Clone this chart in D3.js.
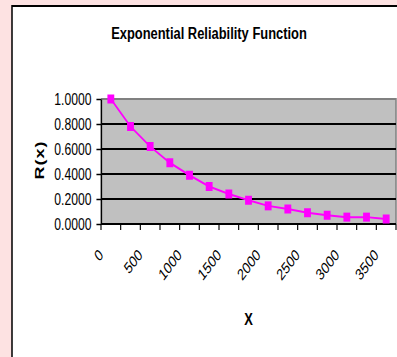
<!DOCTYPE html>
<html>
<head>
<meta charset="utf-8">
<script src="https://cdn.jsdelivr.net/npm/d3@7"></script>
<style>
  html, body { margin: 0; padding: 0; background: #fde2e2; }
  svg { display: block; }
  text { font-family: "Liberation Sans", Arial, sans-serif; fill: #000; }
</style>
</head>
<body>
<div id="chart"></div>
<script>
// chart data
const categories = [0, 250, 500, 750, 1000, 1250, 1500, 1750, 2000, 2250, 2500, 2750, 3000, 3250, 3500];
const reliability = [1.0, 0.78, 0.62, 0.49, 0.39, 0.30, 0.24, 0.19, 0.145, 0.12, 0.09, 0.07, 0.055, 0.055, 0.04];
const yTicks = [0, 0.2, 0.4, 0.6, 0.8, 1.0];
const xLabels = [0, 500, 1000, 1500, 2000, 2500, 3000, 3500];

// the original picture is squeezed horizontally, so draw wide and scale down
const SX = 0.76;
const width = 397, height = 357;
const W = width / SX;

const svg = d3.select('#chart')
    .append('svg')
    .attr('width', width)
    .attr('height', height);

svg.append('rect')
    .attr('width', width)
    .attr('height', height)
    .attr('fill', '#fde2e2');

const g = svg.append('g').attr('transform', `scale(${SX},1)`);

// chart area (white with black frame, right/bottom edges off-picture)
g.append('rect')
    .attr('x', 12 / SX)
    .attr('y', 6)
    .attr('width', W + 20)
    .attr('height', height + 20)
    .attr('fill', '#fff')
    .attr('stroke', '#000')
    .attr('stroke-width', 2);

const plot = {left: 101 / SX, right: 396 / SX, top: 99, bottom: 224};

const x = d3.scaleBand()
    .domain(categories)
    .range([plot.left, plot.right])
    .padding(0);

const y = d3.scaleLinear()
    .domain([0, 1])
    .range([plot.bottom, plot.top]);

// plot background
g.append('rect')
    .attr('x', plot.left)
    .attr('y', plot.top)
    .attr('width', plot.right - plot.left)
    .attr('height', plot.bottom - plot.top)
    .attr('fill', '#c0c0c0');

// top + right border of plot area
g.append('path')
    .attr('d', `M${plot.left},${plot.top}H${plot.right}V${plot.bottom}`)
    .attr('fill', 'none')
    .attr('stroke', '#808080')
    .attr('stroke-width', 2);

// gridlines
g.append('g')
    .selectAll('line')
    .data(yTicks.filter(d => d > 0 && d < 1))
    .enter()
    .append('line')
    .attr('x1', plot.left)
    .attr('x2', plot.right)
    .attr('y1', d => y(d))
    .attr('y2', d => y(d))
    .attr('stroke', '#000')
    .attr('stroke-width', 2);

// y axis
const yAxis = g.append('g')
    .attr('transform', `translate(${plot.left},0)`)
    .call(d3.axisLeft(y)
        .tickValues(yTicks)
        .tickFormat(d3.format('.4f'))
        .tickSize(6)
        .tickSizeOuter(0)
        .tickPadding(6.5));
yAxis.select('.domain').attr('stroke', '#000').attr('stroke-width', 2);
yAxis.selectAll('.tick line').attr('stroke', '#000').attr('stroke-width', 1.5);
yAxis.selectAll('.tick text')
    .attr('font-family', '"Liberation Sans", Arial, sans-serif')
    .attr('font-size', 16)
    .attr('fill', '#000');

// x axis line + ticks at category boundaries
g.append('line')
    .attr('x1', plot.left)
    .attr('x2', plot.right)
    .attr('y1', plot.bottom)
    .attr('y2', plot.bottom)
    .attr('stroke', '#000')
    .attr('stroke-width', 2);

const bounds = categories.map(c => x(c)).concat([plot.right]);
g.append('g')
    .selectAll('line')
    .data(bounds)
    .enter()
    .append('line')
    .attr('x1', d => d)
    .attr('x2', d => d)
    .attr('y1', plot.bottom)
    .attr('y2', plot.bottom + 6)
    .attr('stroke', '#000')
    .attr('stroke-width', 1.5);

// rotated category labels
g.append('g')
    .selectAll('text')
    .data(xLabels)
    .enter()
    .append('text')
    .attr('transform', d => `translate(${x(d) + x.bandwidth() / 2 - 9},256) rotate(-45)`)
    .attr('text-anchor', 'end')
    .attr('font-size', 16)
    .text(d => d);

// line + markers
const line = d3.line()
    .x((d, i) => x(categories[i]) + x.bandwidth() / 2)
    .y(d => y(d));

g.append('path')
    .datum(reliability)
    .attr('d', line)
    .attr('fill', 'none')
    .attr('stroke', '#ff00ff')
    .attr('stroke-width', 2);

g.append('g')
    .selectAll('rect')
    .data(reliability)
    .enter()
    .append('rect')
    .attr('x', (d, i) => x(categories[i]) + x.bandwidth() / 2 - 4.5)
    .attr('y', d => y(d) - 4.5)
    .attr('width', 9)
    .attr('height', 9)
    .attr('fill', '#ff00ff');

// titles
g.append('text')
    .attr('x', 209 / SX)
    .attr('y', 39)
    .attr('text-anchor', 'middle')
    .attr('font-size', 17)
    .attr('font-weight', 'bold')
    .text('Exponential Reliability Function');

g.append('text')
    .attr('transform', `translate(${44 / SX},160) rotate(-90)`)
    .attr('text-anchor', 'middle')
    .attr('font-size', 18)
    .attr('font-weight', 'bold')
    .attr('letter-spacing', 1)
    .text('R(x)');

g.append('text')
    .attr('x', (plot.left + plot.right) / 2)
    .attr('y', 325)
    .attr('text-anchor', 'middle')
    .attr('font-size', 17)
    .attr('font-weight', 'bold')
    .text('X');
</script>
</body>
</html>
